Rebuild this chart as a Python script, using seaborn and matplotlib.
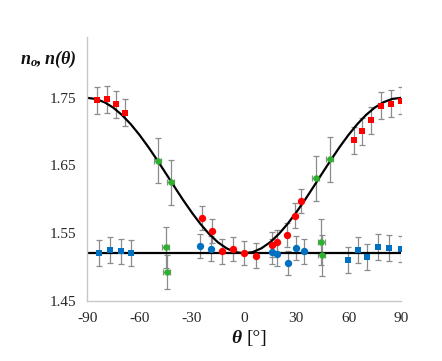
import numpy as np
import pandas as pd
import matplotlib
matplotlib.use("Agg")
import matplotlib.pyplot as plt
import seaborn as sns

# ---- data ----
# theory curve n(theta) read every 5 degrees
curve_theta = [-90, -85, -80, -75, -70, -65, -60, -55, -50, -45, -40, -35, -30, -25, -20, -15, -10, -5,
               0, 5, 10, 15, 20, 25, 30, 35, 40, 45, 50, 55, 60, 65, 70, 75, 80, 85, 90]
curve_n = [1.7500, 1.7484, 1.7435, 1.7356, 1.7247, 1.7112, 1.6954, 1.6778, 1.6588, 1.6390,
           1.6190, 1.5993, 1.5807, 1.5636, 1.5487, 1.5365, 1.5275, 1.5219,
           1.5200, 1.5219, 1.5275, 1.5365, 1.5487, 1.5636, 1.5807, 1.5993, 1.6190,
           1.6390, 1.6588, 1.6778, 1.6954, 1.7112, 1.7247, 1.7356, 1.7435, 1.7484, 1.7500]
# ordinary index line
flat_theta = [-90, 90]
flat_n = [1.52, 1.52]

# red squares
rs_theta = [-84.1, -78.6, -73.2, -68.3, 62.9, 67.7, 72.8, 78.6, 84.2, 89.9]
rs_n = [1.7466, 1.7476, 1.7407, 1.728, 1.687, 1.7007, 1.717, 1.738, 1.741, 1.7456]
rs_err = [0.02] * 10

# red circles
rc_theta = [-24.1, -18.5, -12.8, -6.5, 0.0, 6.7, 16.1, 19.1, 24.7, 29.1, 32.9]
rc_n = [1.572, 1.553, 1.523, 1.526, 1.5205, 1.5167, 1.533, 1.5366, 1.5475, 1.576, 1.597]
rc_err = [0.018] * 11

# blue squares
bs_theta = [-83.3, -77.0, -70.7, -64.8, 59.5, 65.2, 70.6, 77.1, 83.4, 89.9]
bs_n = [1.521, 1.525, 1.523, 1.521, 1.510, 1.525, 1.515, 1.529, 1.528, 1.526]
bs_err = [0.019] * 10

# blue circles
bc_theta = [-25.0, -19.1, 16.1, 19.1, 25.2, 30.0, 34.6]
bc_n = [1.5306, 1.527, 1.5227, 1.5187, 1.506, 1.528, 1.523]
bc_err = [0.018] * 7

# green points
g_theta = [-49.5, -41.9, -44.9, -44.2, 41.1, 49.3, 44.2, 44.7]
g_n = [1.657, 1.625, 1.529, 1.492, 1.631, 1.659, 1.537, 1.517]
g_err = [0.033, 0.033, 0.03, 0.025, 0.033, 0.033, 0.034, 0.03]
g_xerr = [2.0] * 8

RED = "#FF0000"
BLUE = "#0070C0"
GREEN = "#2DB22D"
ERRC = "#8C8C8C"

sns.set_theme(style="white")
plt.rcParams["axes.unicode_minus"] = False
plt.rcParams["mathtext.fontset"] = "custom"
plt.rcParams["mathtext.it"] = "Liberation Serif:italic:bold"
plt.rcParams["mathtext.rm"] = "Liberation Serif:italic:bold"
plt.rcParams["mathtext.bf"] = "Liberation Serif:italic:bold"

fig = plt.figure(figsize=(4.42, 3.61), dpi=100)
ax = fig.add_axes([0.197, 0.167, 0.710, 0.7305])

# error bars
ekw = dict(fmt="none", ecolor=ERRC, elinewidth=0.9, capsize=2.2, capthick=0.9, zorder=1)
ax.errorbar(rs_theta, rs_n, yerr=rs_err, **ekw)
ax.errorbar(rc_theta, rc_n, yerr=rc_err, **ekw)
ax.errorbar(bs_theta, bs_n, yerr=bs_err, **ekw)
ax.errorbar(bc_theta, bc_n, yerr=bc_err, **ekw)
ax.errorbar(g_theta, g_n, yerr=g_err, xerr=g_xerr, **ekw)

# lines
sns.lineplot(x=curve_theta, y=curve_n, ax=ax, color="black", linewidth=1.6, zorder=2, sort=False)
sns.lineplot(x=flat_theta, y=flat_n, ax=ax, color="black", linewidth=1.6, zorder=2)

# markers
sns.scatterplot(x=rs_theta, y=rs_n, ax=ax, color=RED, marker="s", s=22, linewidth=0, zorder=3)
sns.scatterplot(x=rc_theta, y=rc_n, ax=ax, color=RED, marker="o", s=28, linewidth=0, zorder=3)
sns.scatterplot(x=bs_theta, y=bs_n, ax=ax, color=BLUE, marker="s", s=22, linewidth=0, zorder=3)
sns.scatterplot(x=bc_theta, y=bc_n, ax=ax, color=BLUE, marker="o", s=28, linewidth=0, zorder=3)
sns.scatterplot(x=g_theta, y=g_n, ax=ax, color=GREEN, marker="o", s=22, linewidth=0, zorder=3)

ax.set_xlim(-90, 90)
ax.set_ylim(1.45, 1.84)
ax.set_xticks([-90, -60, -30, 0, 30, 60, 90])
ax.set_xticklabels(["-90", "-60", "-30", "0", "30", "60", "90"])
ax.set_yticks([1.45, 1.55, 1.65, 1.75])
ax.set_yticklabels(["1.45", "1.55", "1.65", "1.75"])

for side in ["top", "right"]:
    ax.spines[side].set_visible(False)
for side in ["left", "bottom"]:
    ax.spines[side].set_color("#C8C8C8")
    ax.spines[side].set_linewidth(1.0)

ax.tick_params(axis="both", which="both", direction="out", length=5, width=0.9,
               color="#C8C8C8", labelsize=11, labelcolor="#262626", pad=3)
for lab in ax.get_xticklabels() + ax.get_yticklabels():
    lab.set_family("Liberation Serif")
ax.set_xlabel("")
ax.set_ylabel("")

# axis titles
fig.text(0.109, 0.834, r"$n_o, n(\theta)$", fontsize=13, ha="center", va="center", color="#111111")
fig.text(0.546, 0.061, "θ", family="Liberation Serif", weight="bold", style="italic",
         fontsize=14, ha="right", va="center", color="#111111")
fig.text(0.558, 0.061, "[°]", family="Liberation Serif", fontsize=14, ha="left", va="center",
         color="#111111")

fig.savefig("out.png", dpi=100)
